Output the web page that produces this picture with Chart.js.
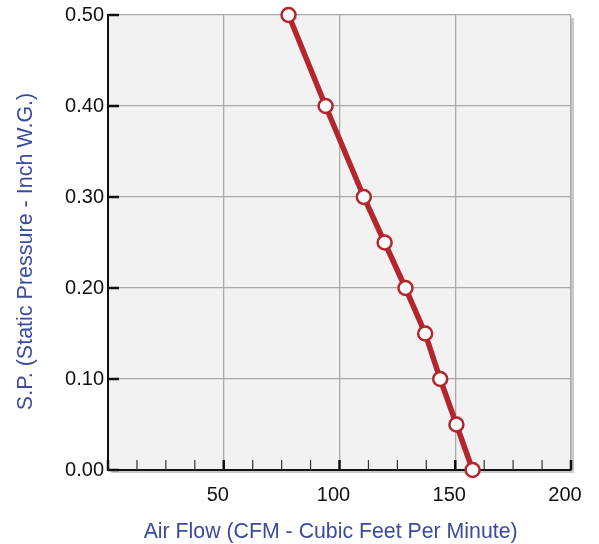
<!DOCTYPE html>
<html>
<head>
<meta charset="utf-8">
<script src="https://cdn.jsdelivr.net/npm/chart.js@4/dist/chart.umd.min.js"></script>
<style>
html,body{margin:0;padding:0;background:#fff;}
#wrap{width:599px;height:544px;position:relative;}
</style>
</head>
<body>
<div id="wrap"><canvas id="c"></canvas></div>
<script>
// Data
const airFlow = [78, 94, 110.5, 119.5, 128.5, 137, 143.5, 150.5, 157.5];
const staticPressure = [0.50, 0.40, 0.30, 0.25, 0.20, 0.15, 0.10, 0.05, 0.00];
const xTickValues = [50, 100, 150, 200];
const yTickValues = [0.00, 0.10, 0.20, 0.30, 0.40, 0.50];
const xMinorStep = 12.5;

const FONT = "'Liberation Sans', Arial, sans-serif";
const TITLE_COLOR = '#3a4aa0';
const LINE_COLOR = '#b3262d';
const NBSP = '\u00A0';

const points = airFlow.map((x, i) => ({x: x, y: staticPressure[i]}));

const framePlugin = {
  id: 'frame',
  beforeDraw(chart) {
    const {ctx, chartArea: a} = chart;
    ctx.save();
    ctx.fillStyle = '#c9c9c9';
    ctx.fillRect(a.left + 3, a.top + 3, a.right - a.left, a.bottom - a.top);
    ctx.fillStyle = '#f2f2f2';
    ctx.fillRect(a.left, a.top, a.right - a.left, a.bottom - a.top);
    ctx.restore();
  },
  beforeDatasetsDraw(chart) {
    const {ctx, chartArea: a, scales} = chart;
    const xs = scales.x, ys = scales.y;
    ctx.save();
    for (let v = xs.min; v <= xs.max + 1e-9; v += xMinorStep) {
      const px = xs.getPixelForValue(v);
      const major = Math.abs(v % 50) < 1e-9;
      ctx.beginPath();
      ctx.strokeStyle = major ? '#111' : '#333';
      ctx.lineWidth = major ? 2.5 : 1.2;
      ctx.moveTo(px, a.bottom);
      ctx.lineTo(px, a.bottom - 10);
      ctx.stroke();
    }
    yTickValues.forEach(v => {
      const py = ys.getPixelForValue(v);
      ctx.beginPath();
      ctx.strokeStyle = '#111';
      ctx.lineWidth = 2.5;
      ctx.moveTo(a.left, py);
      ctx.lineTo(a.left + 11, py);
      ctx.stroke();
    });
    ctx.restore();
  }
};

new Chart(document.getElementById('c'), {
  type: 'line',
  data: {
    datasets: [{
      data: points,
      clip: false,
      borderColor: LINE_COLOR,
      borderWidth: 5.5,
      pointRadius: 7,
      pointHoverRadius: 7,
      pointBorderWidth: 2.5,
      pointBackgroundColor: '#ffffff',
      pointBorderColor: LINE_COLOR,
      tension: 0
    }]
  },
  options: {
    responsive: true,
    maintainAspectRatio: false,
    animation: false,
    events: [],
    layout: {padding: {left: 0, top: 15, right: 28, bottom: 0}},
    plugins: {legend: {display: false}, tooltip: {enabled: false}},
    scales: {
      x: {
        type: 'linear',
        min: 0, max: 200,
        afterBuildTicks(scale) { scale.ticks = [0].concat(xTickValues).map(v => ({value: v})); },
        afterFit(scale) { scale.height = 74; scale.paddingRight = 0; scale.paddingLeft = 0; },
        grid: {color: '#a9a9a9', lineWidth: 1.3, drawTicks: false},
        border: {display: true, color: '#111', width: 2},
        ticks: {
          padding: 15,
          labelOffset: -6,
          color: '#111',
          font: {family: FONT, size: 20, lineHeight: 1},
          callback: v => (v === 0 ? '' : String(v))
        },
        title: {
          display: true,
          text: 'Air Flow (CFM - Cubic Feet Per Minute)' + NBSP + NBSP + NBSP,
          color: TITLE_COLOR,
          font: {family: FONT, size: 21.3, lineHeight: 1},
          padding: {top: 0, bottom: 1}
        }
      },
      y: {
        type: 'linear',
        min: 0, max: 0.5,
        afterBuildTicks(scale) { scale.ticks = yTickValues.map(v => ({value: v})); },
        afterFit(scale) { scale.width = 108; scale.paddingTop = 0; scale.paddingBottom = 0; },
        grid: {color: '#a9a9a9', lineWidth: 1.3, drawTicks: false},
        border: {display: true, color: '#111', width: 2},
        ticks: {
          padding: 4,
          color: '#111',
          font: {family: FONT, size: 20, lineHeight: 1},
          callback: v => Number(v).toFixed(2)
        },
        title: {
          display: true,
          text: 'S.P. (Static Pressure - Inch W.G.)' + NBSP + NBSP + NBSP,
          color: TITLE_COLOR,
          font: {family: FONT, size: 21.5, lineHeight: 1},
          padding: {top: 15, bottom: 0}
        }
      }
    }
  },
  plugins: [framePlugin]
});
</script>
</body>
</html>
